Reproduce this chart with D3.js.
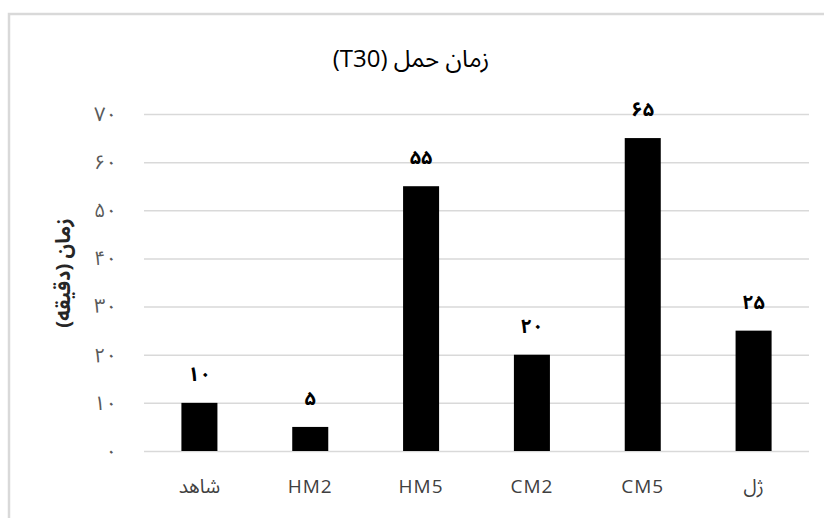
<!DOCTYPE html>
<html>
<head>
<meta charset="utf-8">
<script src="https://cdn.jsdelivr.net/npm/d3@7"></script>
<style>
  html, body { margin: 0; padding: 0; background: #fff; overflow: hidden; }
  svg { display: block; }
  text { font-family: "Open Sans", "Noto Sans Arabic", "Noto Naskh Arabic", "DejaVu Sans", sans-serif; }
</style>
</head>
<body>
<svg id="chart" width="824" height="518"></svg>
<script>
// Loading time (T30) per treatment, in minutes
const categories = ["شاهد", "HM2", "HM5", "CM2", "CM5", "ژل"];
const values = [10, 5, 55, 20, 65, 25];
const tickValues = [0, 10, 20, 30, 40, 50, 60, 70];
const chartTitle = "زمان حمل (T30)";
const yTitle = "زمان (دقیقه)";

// Persian digits for tick and value labels
const faDigits = "۰۱۲۳۴۵۶۷۸۹";
const toFa = n => String(n).replace(/[0-9]/g, d => faDigits[+d]);

const svg = d3.select("#chart");
const W = 824, H = 518;

// chart frame
svg.append("rect")
  .attr("x", 9).attr("y", 14)
  .attr("width", W + 10).attr("height", H + 10)
  .attr("fill", "#fff")
  .attr("stroke", "#d9d9d9").attr("stroke-width", 2.5);

const plot = { left: 144, right: 809, top: 114, bottom: 451 };

const x = d3.scaleBand()
  .domain(categories)
  .range([plot.left, plot.right])
  .paddingInner(0.675)
  .paddingOuter(0.3375);

const y = d3.scaleLinear()
  .domain([0, 70])
  .range([plot.bottom, plot.top]);

// horizontal gridlines with tick labels
const yAxis = d3.axisLeft(y)
  .tickValues(tickValues)
  .tickSize(-(plot.right - plot.left))
  .tickPadding(27)
  .tickFormat(toFa);

const gy = svg.append("g")
  .attr("transform", `translate(${plot.left},0)`)
  .call(yAxis);
gy.select(".domain").remove();
gy.selectAll(".tick line")
  .attr("stroke", "#d9d9d9")
  .attr("stroke-width", 1.5);
gy.selectAll(".tick text")
  .attr("fill", "#595959")
  .style("font-size", "20px");

// category labels
const xAxis = d3.axisBottom(x).tickSize(0).tickPadding(0);
const gx = svg.append("g")
  .attr("transform", `translate(0,${plot.bottom})`)
  .call(xAxis);
gx.select(".domain").remove();
gx.selectAll(".tick text")
  .attr("dy", null)
  .attr("y", 42)
  .attr("fill", "#404040")
  .style("font-size", "19px")
  .style("letter-spacing", "1px");

// bars
svg.append("g")
  .selectAll("rect")
  .data(values)
  .join("rect")
  .attr("x", (d, i) => x(categories[i]))
  .attr("y", d => y(d))
  .attr("width", x.bandwidth())
  .attr("height", d => y(0) - y(d))
  .attr("fill", "#000");

// value labels
svg.append("g")
  .selectAll("text")
  .data(values)
  .join("text")
  .attr("x", (d, i) => x(categories[i]) + x.bandwidth() / 2)
  .attr("y", d => y(d) - 22)
  .attr("text-anchor", "middle")
  .attr("fill", "#000")
  .style("font-size", "20px")
  .style("font-weight", "bold")
  .text(toFa);

// title
svg.append("text")
  .attr("x", 411)
  .attr("y", 67)
  .attr("text-anchor", "middle")
  .attr("direction", "rtl")
  .attr("fill", "#000")
  .style("font-size", "24px")
  .text(chartTitle);

// y-axis title
svg.append("text")
  .attr("transform", `translate(70,273) rotate(-90)`)
  .attr("text-anchor", "middle")
  .attr("direction", "rtl")
  .attr("fill", "#262626")
  .style("font-size", "20px")
  .style("font-weight", "bold")
  .text(yTitle);
</script>
</body>
</html>
